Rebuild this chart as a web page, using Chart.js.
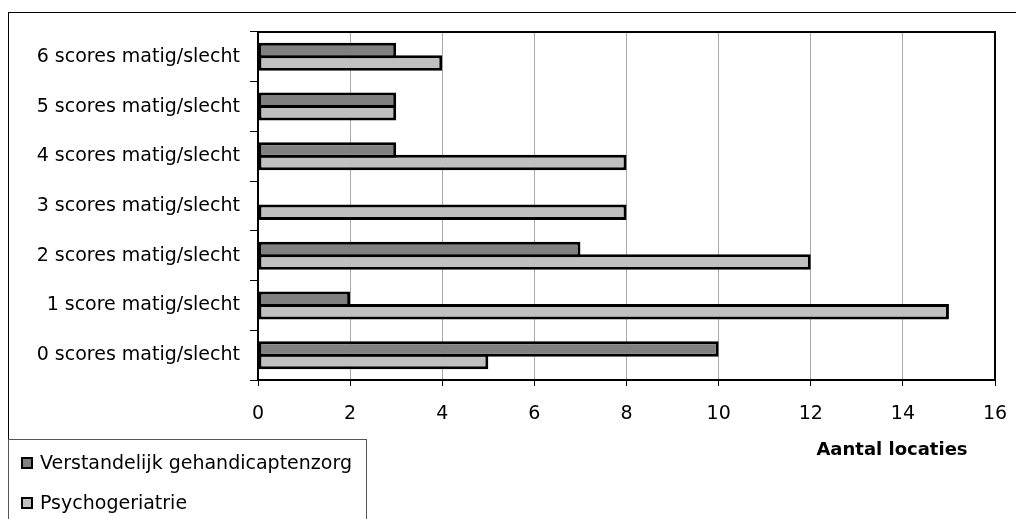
<!DOCTYPE html>
<html>
<head>
<meta charset="utf-8">
<script src="https://cdn.jsdelivr.net/npm/chart.js@4.4.0/dist/chart.umd.min.js"></script>
<style>
  html, body { margin: 0; padding: 0; background: #fff; }
  #wrap { width: 1016px; height: 519px; }
</style>
</head>
<body>
<div id="wrap"><canvas id="chart" width="1016" height="519"></canvas></div>
<script>
// Categories (top to bottom) and values per series
const categories = [
    '6 scores matig/slecht',
    '5 scores matig/slecht',
    '4 scores matig/slecht',
    '3 scores matig/slecht',
    '2 scores matig/slecht',
    '1 score matig/slecht',
    '0 scores matig/slecht'
];
const seriesNames = ['Verstandelijk gehandicaptenzorg', 'Psychogeriatrie'];
const vgzValues = [3, 3, 3, 0, 7, 2, 10];
const pgValues = [4, 3, 8, 8, 12, 15, 5];
const xTicks = [0, 2, 4, 6, 8, 10, 12, 14, 16];
const axisTitle = 'Aantal locaties';

const FONT = '"DejaVu Sans", sans-serif';

// white page + outer border of the chart object
const backdrop = {
    id: 'backdrop',
    beforeDraw(chart) {
        const ctx = chart.ctx;
        ctx.save();
        ctx.fillStyle = '#fff';
        ctx.fillRect(0, 0, chart.width, chart.height);
        ctx.strokeStyle = '#000';
        ctx.lineWidth = 1;
        ctx.strokeRect(8.5, 12.5, chart.width + 20, chart.height + 20);
        ctx.restore();
    }
};

// heavy frame round the plot area
const plotFrame = {
    id: 'plotFrame',
    afterDatasetsDraw(chart) {
        const { left, top, right, bottom } = chart.chartArea;
        const ctx = chart.ctx;
        ctx.save();
        ctx.strokeStyle = '#000';
        ctx.lineWidth = 2;
        ctx.strokeRect(left, top, right - left, bottom - top);
        ctx.restore();
    }
};

// axis title + boxed legend in the lower left
const extras = {
    id: 'extras',
    afterDraw(chart) {
        const ctx = chart.ctx;
        ctx.save();
        ctx.fillStyle = '#000';
        ctx.font = 'bold 18px ' + FONT;
        ctx.textAlign = 'center';
        ctx.textBaseline = 'middle';
        ctx.fillText(axisTitle, 892, 450);

        ctx.fillStyle = '#fff';
        ctx.fillRect(8.5, 439.5, 358, 100);
        ctx.strokeStyle = '#555';
        ctx.lineWidth = 1;
        ctx.strokeRect(8.5, 439.5, 358, 100);

        ctx.font = '19px ' + FONT;
        ctx.textAlign = 'left';
        chart.data.datasets.forEach((ds, i) => {
            const y = 463 + i * 40;
            ctx.fillStyle = ds.backgroundColor;
            ctx.fillRect(22, y - 5, 10, 10);
            ctx.strokeStyle = '#000';
            ctx.lineWidth = 2;
            ctx.strokeRect(22, y - 5, 10, 10);
            ctx.fillStyle = '#000';
            ctx.fillText(ds.label, 40, y + 1);
        });
        ctx.restore();
    }
};

const chart = new Chart(document.getElementById('chart'), {
    type: 'bar',
    data: {
        labels: categories,
        datasets: [
            { label: seriesNames[0], data: vgzValues, backgroundColor: '#808080', borderColor: '#000', borderWidth: 3, borderSkipped: false, inflateAmount: 0 },
            { label: seriesNames[1], data: pgValues, backgroundColor: '#c0c0c0', borderColor: '#000', borderWidth: 3, borderSkipped: false, inflateAmount: 0 }
        ]
    },
    options: {
        indexAxis: 'y',
        responsive: false,
        animation: false,
        devicePixelRatio: 1,
        layout: { padding: { top: 32, right: 21, left: 0, bottom: 0 } },
        // bars overlap by one border so the pair shares a single edge
        datasets: { bar: { barPercentage: 1.24, categoryPercentage: 0.503 } },
        plugins: { legend: { display: false }, tooltip: { enabled: false } },
        scales: {
            x: {
                min: 0, max: 16,
                afterBuildTicks: s => { s.ticks = xTicks.map(v => ({ value: v })); },
                afterFit: s => { s.height = 139; s.paddingLeft = 0; s.paddingRight = 0; },
                grid: { color: '#aaaaaa', lineWidth: 1, tickColor: '#000', tickLength: 6 },
                border: { display: false },
                ticks: { color: '#000', font: { family: FONT, size: 19 }, padding: 17, maxRotation: 0 }
            },
            y: {
                afterFit: s => { s.width = 258; },
                grid: { drawOnChartArea: false, color: '#000', tickLength: 8, offset: true },
                border: { display: false },
                ticks: { color: '#000', font: { family: FONT, size: 19 }, padding: 10 }
            }
        }
    },
    plugins: [backdrop, plotFrame, extras]
});
</script>
</body>
</html>
